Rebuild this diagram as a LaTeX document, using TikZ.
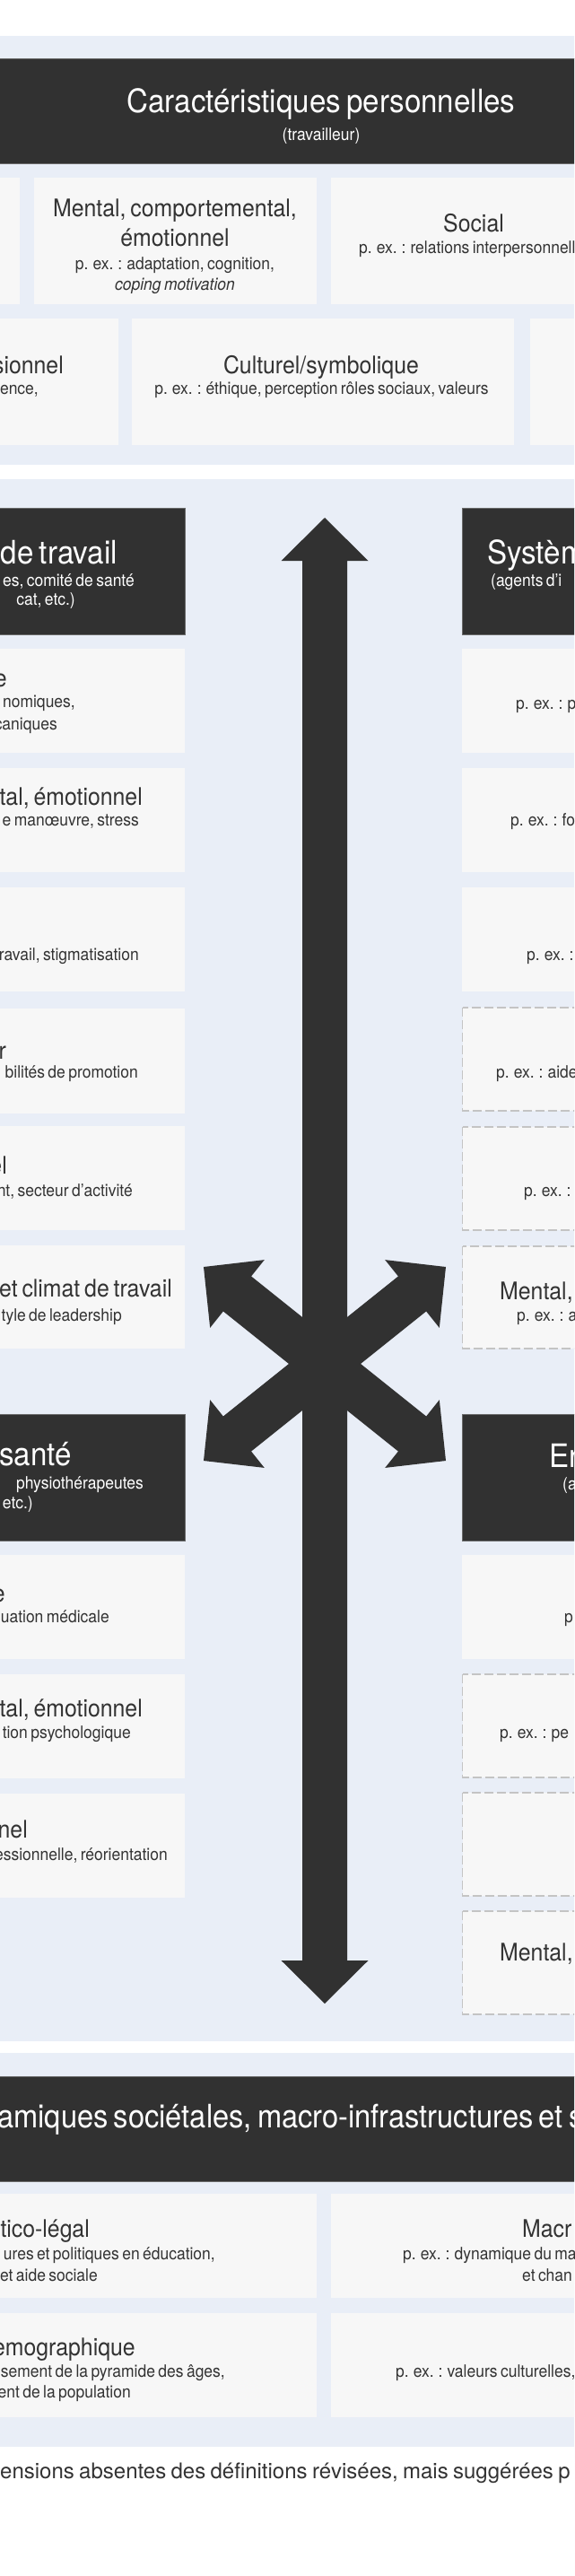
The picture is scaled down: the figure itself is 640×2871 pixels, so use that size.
\documentclass[tikz,border=0pt]{standalone}
\usepackage{fontspec}
\setmainfont{TeX Gyre Heros}[FakeStretch=0.92,WordSpace=0.7]
\newfontfamily\footfont{TeX Gyre Heros}[WordSpace=0.8]
\usetikzlibrary{calc}
\definecolor{panelbg}{HTML}{E9EEF7}
\definecolor{boxbg}{HTML}{F7F7F7}
\definecolor{darkbg}{HTML}{313131}
\definecolor{txt}{HTML}{333333}
\definecolor{dashc}{HTML}{C4C4C4}
\definecolor{edgec}{HTML}{6A6A6A}
\begin{document}
\begin{tikzpicture}[x=1pt,y=-1pt,
  panel/.style={fill=panelbg},
  lbox/.style={fill=boxbg},
  dbox/.style={fill=boxbg,draw=dashc,line width=1.2pt,dash pattern=on 10pt off 4pt},
  hdr/.style={fill=darkbg,draw=edgec,line width=0.8pt},
  big/.style={inner sep=0pt,text=white,font=\fontsize{36}{40}\selectfont},
  sub/.style={inner sep=0pt,text=white,font=\fontsize{19}{22}\selectfont},
  ttl/.style={inner sep=0pt,text=txt,font=\fontsize{27}{30}\selectfont},
  ex/.style={inner sep=0pt,text=txt,font=\fontsize{19}{22}\selectfont},
  foot/.style={inner sep=0pt,text=txt,font=\footfont\fontsize{24}{28}\selectfont},
  arr/.style={fill=darkbg}]
\useasboundingbox (0,0) rectangle (640,2871);
\clip (0,0) rectangle (640,2871);
\fill[white] (0,0) rectangle (640,2871);
% panels
\fill[panel] (-10,40) rectangle (650,518);
\fill[panel] (-10,534) rectangle (650,2275);
\fill[panel] (-10,2288) rectangle (650,2727);

% ===== Panel 1 =====
\path[hdr] (-10,65) rectangle (650,182);
\node[big,anchor=base] (h1) at (358,126) {Caractéristiques personnelles};
\node[sub,anchor=base] (h1s) at (358,157) {(travailleur)};
\fill[lbox] (-10,198) rectangle (22,339);
\fill[lbox] (37.5,198) rectangle (353,339);
\fill[lbox] (369,198) rectangle (660,339);
\fill[lbox] (-10,355) rectangle (132,496);
\fill[lbox] (147,355) rectangle (573,496);
\fill[lbox] (591,355) rectangle (660,496);
\node[ttl,anchor=base] (p1a) at (195,242) {Mental, comportemental,};
\node[ttl,anchor=base] (p1b) at (195,275) {émotionnel};
\node[ex,anchor=base] (p1c) at (195,300) {p. ex. : adaptation, cognition,};
\node[ex,anchor=base] (p1d) at (195,323) {\itshape coping motivation};
\node[ttl,anchor=base] (p2a) at (528,259) {Social};
\node[ex,anchor=base west] (p2b) at (400,283) {p. ex. : relations interpersonnelles};
\node[ttl,anchor=base east] (p3a) at (71,416) {sionnel};
\node[ex,anchor=base east] (p3b) at (43,439) {rience,};
\node[ttl,anchor=base] (p4a) at (358,416) {Culturel/symbolique};
\node[ex,anchor=base] (p4b) at (358.5,439) {p. ex. : éthique, perception rôles sociaux, valeurs};

% ===== Panel 2 =====
\path[hdr] (-10,566) rectangle (206,707);
\path[hdr] (515,566) rectangle (660,707);
\path[hdr] (-10,1576) rectangle (206,1717);
\path[hdr] (515,1576) rectangle (660,1717);
\foreach \ya/\yb in {723/839,856/972,989/1105,1124/1241,1255/1371,1388/1503,1733/1849,1866/1982,1999/2115}
  \fill[lbox] (-10,\ya) rectangle (206,\yb);
\foreach \ya/\yb in {723/839,856/972,989/1105,1733/1849}
  \fill[lbox] (515,\ya) rectangle (660,\yb);
\foreach \ya/\yb in {1123/1238,1256/1371,1389/1503,1866/1981,1998/2113,2130/2245}
  \path[dbox] (515.6,\ya) rectangle (670,\yb);

% arrows
\coordinate (vt) at (362,577);
\coordinate (vb) at (362,2233);
\coordinate (xc) at (362,1520);
\fill[arr] (vt) -- ++(48.5,48) -- ++(-23.5,0) -- ($(vb)+(25,-48)$) -- ++(23.5,0) -- (vb)
  -- ++(-48.5,-48) -- ++(23.5,0) -- ($(vt)+(-25,48)$) -- ++(-23.5,0) -- cycle;
\foreach \a in {141.34,38.66,218.66,-38.66}
  \fill[arr,shift={(xc)},rotate=\a] (0,-25) -- (124.9,-25) -- (124.9,-48.5) -- (172.9,0)
    -- (124.9,48.5) -- (124.9,25) -- (0,25) -- cycle;

% left dark top
\node[big,anchor=base east] (lt1) at (131,628) {de travail};
\node[sub,anchor=base east] (lt2) at (150,653) {es, comité de santé};
\node[sub,anchor=base east] (lt3) at (84,674) {cat, etc.)};
% right dark top
\node[big,anchor=base west] (rt1) at (543,628) {Systèm};
\node[sub,anchor=base west] (rt2) at (547,653) {(agents d’i};
% left boxes
\node[ttl,anchor=base east] (l1a) at (8,765) {e};
\node[ex,anchor=base east] (l1b) at (84,788) {nomiques,};
\node[ex,anchor=base east] (l1c) at (64,813) {caniques};
\node[ttl,anchor=base east] (l2a) at (159,897) {tal, émotionnel};
\node[ex,anchor=base east] (l2b) at (155,920) {e manœuvre, stress};
\node[ex,anchor=base east] (l3b) at (155,1070) {ravail, stigmatisation};
\node[ttl,anchor=base east] (l4a) at (7,1180) {r};
\node[ex,anchor=base east] (l4b) at (154,1201) {bilités de promotion};
\node[ttl,anchor=base east] (l5a) at (8,1308) {el};
\node[ex,anchor=base east] (l5b) at (148,1333) {nt, secteur d’activité};
\node[ttl,anchor=base east] (l6a) at (192,1445) {et climat de travail};
\node[ex,anchor=base east] (l6b) at (136,1472) {tyle de leadership};
% left dark bottom
\node[big,anchor=base east] (lb1) at (80,1633) {santé};
\node[sub,anchor=base east] (lb2) at (160,1659) {physiothérapeutes};
\node[sub,anchor=base east] (lb3) at (37,1681) {etc.)};
\node[ttl,anchor=base east] (l7a) at (6,1785) {e};
\node[ex,anchor=base east] (l7b) at (122,1808) {uation médicale};
\node[ttl,anchor=base east] (l8a) at (159,1913) {tal, émotionnel};
\node[ex,anchor=base east] (l8b) at (146,1937) {tion psychologique};
\node[ttl,anchor=base east] (l9a) at (31,2048) {nel};
\node[ex,anchor=base east] (l9b) at (187,2073) {essionnelle, réorientation};
% right boxes
\node[ex,anchor=base west] (r1b) at (575,790) {p. ex. : p};
\node[ex,anchor=base west] (r2b) at (569,920) {p. ex. : fo};
\node[ex,anchor=base west] (r3b) at (587,1070) {p. ex. : a};
\node[ex,anchor=base west] (r4b) at (553,1201) {p. ex. : aide c};
\node[ex,anchor=base west] (r5b) at (584,1333) {p. ex. :};
\node[ttl,anchor=base west] (r6a) at (557,1448) {Mental, é};
\node[ex,anchor=base west] (r6b) at (576,1472) {p. ex. : aid};
\node[big,anchor=base west] (rb1) at (612,1635) {En};
\node[sub,anchor=base west] (rb2) at (627,1660) {(a};
\node[ex,anchor=base west] (r7b) at (629,1808) {p};
\node[ex,anchor=base west] (r8b) at (557,1937) {p. ex. : pe};
\node[ttl,anchor=base west] (r10a) at (557,2185) {Mental, é};

% ===== Panel 3 =====
\path[hdr] (-10,2314) rectangle (650,2431);
\node[big,anchor=base west,xscale=0.985] (h3) at (-3,2371) {amiques sociétales, macro-infrastructures et s};
\fill[lbox] (-10,2445) rectangle (353,2561);
\fill[lbox] (369,2445) rectangle (660,2561);
\fill[lbox] (-10,2578) rectangle (353,2694);
\fill[lbox] (369,2578) rectangle (660,2694);
\node[ttl,anchor=base east] (s1a) at (100,2493) {tico-légal};
\node[ex,anchor=base east] (s1b) at (240,2518) {ures et politiques en éducation,};
\node[ex,anchor=base east] (s1c) at (109,2542) {et aide sociale};
\node[ttl,anchor=base west] (s2a) at (582,2493) {Macr};
\node[ex,anchor=base west] (s2b) at (449,2518) {p. ex. : dynamique du ma};
\node[ex,anchor=base west] (s2c) at (582,2542) {et chan};
\node[ttl,anchor=base east] (s3a) at (151,2625) {emographique};
\node[ex,anchor=base east] (s3b) at (251,2649) {sement de la pyramide des âges,};
\node[ex,anchor=base east] (s3c) at (146,2672) {ent de la population};
\node[ex,anchor=base west] (s4b) at (441,2649) {p. ex. : valeurs culturelles, r};

% footer
\node[foot,anchor=base west] (ft) at (0,2762) {ensions absentes des définitions révisées, mais suggérées p};
\end{tikzpicture}
\end{document}
